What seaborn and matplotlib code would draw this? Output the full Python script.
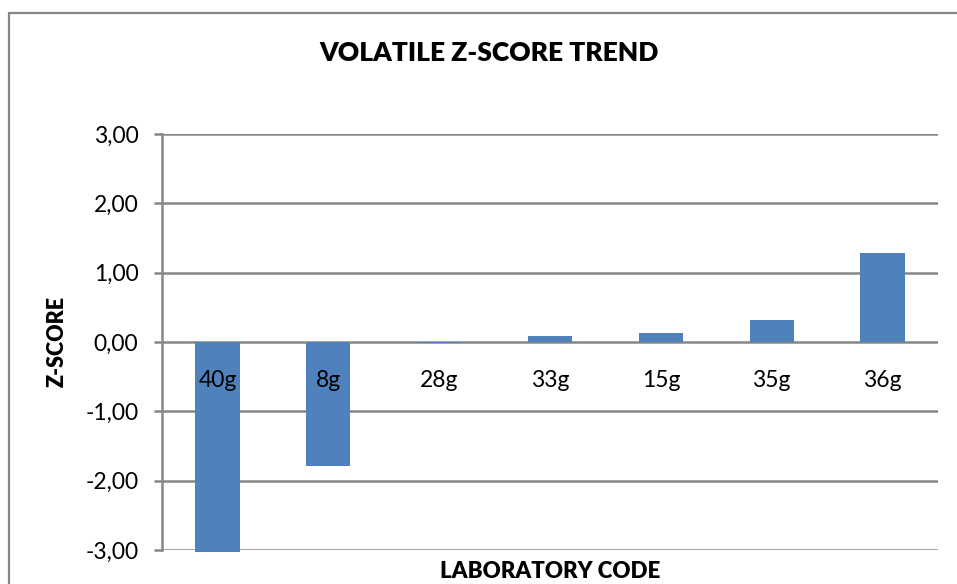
import matplotlib
matplotlib.use("Agg")
import matplotlib.pyplot as plt
from matplotlib.lines import Line2D
from matplotlib.ticker import FuncFormatter
import seaborn as sns
import pandas as pd

# Data
lab_codes = ['40g', '8g', '28g', '33g', '15g', '35g', '36g']
z_scores = [-3.03, -1.79, -0.02, 0.08, 0.13, 0.32, 1.29]

df = pd.DataFrame({'code': lab_codes, 'z': z_scores})

sns.set_style('white')
plt.rcParams['font.family'] = ['Lato', 'DejaVu Sans']
plt.rcParams['text.color'] = 'black'
plt.rcParams['xtick.color'] = 'black'
plt.rcParams['ytick.color'] = 'black'

fig = plt.figure(figsize=(9.57, 5.84), dpi=100)
ax = fig.add_axes([0.1693, 0.0582, 0.8109, 0.7123])

grey = '#868686'
sns.barplot(data=df, x='code', y='z', color='#4F81BD', saturation=1,
            width=0.4, linewidth=0, ax=ax, zorder=3)
for p in ax.patches:
    p.set_clip_on(False)

ax.set_ylim(-3, 3)
ax.set_yticks([-3, -2, -1, 0, 1, 2, 3])
ax.yaxis.set_major_formatter(FuncFormatter(lambda v, pos: f'{v:.2f}'.replace('.', ',')))
ax.yaxis.grid(True, color=grey, linewidth=1.8, zorder=0)
ax.set_axisbelow(True)
# labels of the categories must be drawn over the bars
ax.xaxis.set_zorder(5)

# category labels sit just under the zero line, like Excel
ax.spines['bottom'].set_position(('data', 0))
ax.spines['bottom'].set_visible(False)
ax.spines['top'].set_visible(False)
ax.spines['right'].set_visible(False)
ax.spines['left'].set_color(grey)
ax.spines['left'].set_linewidth(1.8)
ax.tick_params(axis='x', length=0, pad=20, labelsize=16.5, labelcolor='black')
ax.tick_params(axis='y', length=6, width=1.8, color=grey, direction='out',
               labelsize=16.5, pad=11, left=True, labelcolor='black')

ax.set_xlabel('')
ax.set_ylabel('')
fig.text(0.0596, 0.4144, 'Z-SCORE', ha='center', va='center', rotation=90,
         fontsize=15.5, fontweight='heavy')
fig.text(0.5747, 0.021, 'LABORATORY CODE', ha='center', va='center',
         fontsize=16, fontweight='heavy')
fig.text(0.511, 0.909, 'VOLATILE Z-SCORE TREND', ha='center', va='center',
         fontsize=19, fontweight='heavy')

# chart area border (top and left visible in the reference)
fig.add_artist(Line2D([0.0094, 1.0], [0.9777, 0.9777], color=grey, linewidth=1.6))
fig.add_artist(Line2D([0.0094, 0.0094], [0.0, 0.9777], color=grey, linewidth=1.6))

fig.savefig('out.png', dpi=100)
